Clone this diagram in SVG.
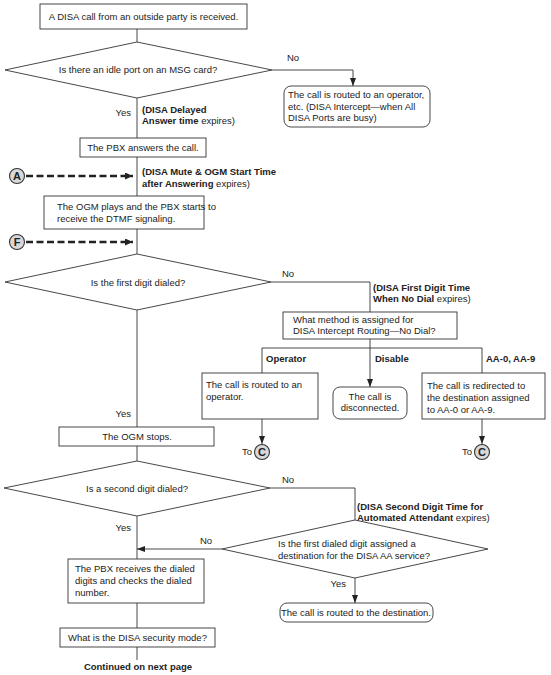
<svg xmlns="http://www.w3.org/2000/svg" width="551" height="675" viewBox="0 0 551 675">
<defs>
<style>
.b{fill:#fff;stroke:#333;stroke-width:0.9}
.l{fill:none;stroke:#333;stroke-width:0.9}
.d{fill:none;stroke:#222;stroke-width:2.4;stroke-dasharray:7 3.5}
.c{fill:#d8d8d8;stroke:#333;stroke-width:1.1}
text{font-family:"Liberation Sans",Arial,sans-serif;font-size:9.5px;fill:#222}
.m{text-anchor:middle}
.e{text-anchor:end}
.k{font-weight:bold}
.cl{font-weight:bold;font-size:11px;text-anchor:middle}
</style>
<marker id="ah" viewBox="0 0 10 10" refX="10" refY="5" markerWidth="8" markerHeight="6" orient="auto" markerUnits="userSpaceOnUse" preserveAspectRatio="none"><path d="M0,0L10,5L0,10z" fill="#222"/></marker>
<marker id="dh" viewBox="0 0 10 10" refX="10" refY="5" markerWidth="8" markerHeight="7" orient="auto" markerUnits="userSpaceOnUse" preserveAspectRatio="none"><path d="M0,0L10,5L0,10z" fill="#222"/></marker>
</defs>
<rect width="551" height="675" fill="#fff"/>

<g id="connectors">
<path class="l" d="M137,29V42"/>
<path class="l" d="M137,98V138"/>
<path class="l" d="M137,157V196"/>
<path class="l" d="M137,229V254"/>
<path class="l" d="M137,310V427"/>
<path class="l" d="M137,446V461"/>
<path class="l" d="M137,516V559"/>
<path class="l" d="M137,603V628"/>
<path class="l" d="M137,647V660"/>
<path class="l" d="M272,70H353V86" marker-end="url(#ah)"/>
<path class="l" d="M271,282H370V312"/>
<path class="l" d="M370,339V348"/>
<path class="l" d="M262,373V348H482V373"/>
<path class="l" d="M370,348V387" marker-end="url(#ah)"/>
<path class="l" d="M262,419V444" marker-end="url(#ah)"/>
<path class="l" d="M482,419V444" marker-end="url(#ah)"/>
<path class="l" d="M270,488H355V520"/>
<path class="l" d="M222,549H137" marker-end="url(#ah)"/>
<path class="l" d="M355,578V603" marker-end="url(#ah)"/>
<path class="d" d="M26,176H133" marker-end="url(#dh)"/>
<path class="d" d="M26,242H133" marker-end="url(#dh)"/>
</g>

<g id="labels">
<text x="287" y="61">No</text>
<text class="e" x="131" y="116">Yes</text>
<text x="142" y="113" class="k">(DISA Delayed</text>
<text x="142" y="124"><tspan class="k">Answer time</tspan> expires)</text>
<text x="142" y="175" class="k">(DISA Mute &amp; OGM Start Time</text>
<text x="142" y="187"><tspan class="k">after Answering</tspan> expires)</text>
<text x="282" y="277">No</text>
<text x="373" y="291" class="k">(DISA First Digit Time</text>
<text x="373" y="302"><tspan class="k">When No Dial</tspan> expires)</text>
<text x="266" y="362" class="k">Operator</text>
<text x="375" y="362" class="k">Disable</text>
<text x="486" y="362" class="k">AA-0, AA-9</text>
<text class="e" x="131" y="417">Yes</text>
<text class="e" x="252" y="455">To</text>
<text class="e" x="472" y="455">To</text>
<text x="282" y="483">No</text>
<text x="357" y="510" class="k">(DISA Second Digit Time for</text>
<text x="357" y="521"><tspan class="k">Automated Attendant</tspan> expires)</text>
<text class="e" x="131" y="531">Yes</text>
<text x="200" y="544">No</text>
<text class="e" x="346" y="587">Yes</text>
<text class="m k" x="138" y="670">Continued on next page</text>
</g>

<g id="n1"><rect class="b" x="40" y="4" width="207" height="25"/><text class="m" x="143.5" y="20">A DISA call from an outside party is received.</text></g>
<g id="n2"><path class="b" d="M5,70L137,42L272,70L137,98z"/><text class="m" x="138" y="73">Is there an idle port on an MSG card?</text></g>
<g id="n3"><rect class="b" x="284" y="86" width="146" height="41" rx="7"/><text x="288" y="98">The call is routed to an operator,</text><text x="288" y="109.5">etc. (DISA Intercept—when All</text><text x="288" y="121">DISA Ports are busy)</text></g>
<g id="n4"><rect class="b" x="80" y="138" width="126" height="19"/><text class="m" x="143" y="151">The PBX answers the call.</text></g>
<g id="cA"><circle class="c" cx="17" cy="176" r="7.5"/><text class="cl" x="17" y="180">A</text></g>
<g id="n5"><rect class="b" x="44" y="196" width="160" height="33"/><text x="57" y="210">The OGM plays and the PBX starts to</text><text x="57" y="221.5">receive the DTMF signaling.</text></g>
<g id="cF"><circle class="c" cx="17" cy="242" r="7.5"/><text class="cl" x="17" y="246">F</text></g>
<g id="n6"><path class="b" d="M5,282L137,254L271,282L137,310z"/><text class="m" x="138" y="286">Is the first digit dialed?</text></g>
<g id="n7"><rect class="b" x="283" y="312" width="174" height="27"/><text x="293" y="323">What method is assigned for</text><text x="293" y="334">DISA Intercept Routing—No Dial?</text></g>
<g id="n8"><rect class="b" x="202" y="373" width="116" height="46"/><text x="206" y="388">The call is routed to an</text><text x="206" y="400">operator.</text></g>
<g id="n9"><rect class="b" x="333" y="387" width="74" height="32" rx="7"/><text class="m" x="370" y="400">The call is</text><text class="m" x="370" y="411">disconnected.</text></g>
<g id="n10"><rect class="b" x="422" y="373" width="123" height="46"/><text x="427" y="389">The call is redirected to</text><text x="427" y="401">the destination assigned</text><text x="427" y="413">to AA-0 or AA-9.</text></g>
<g id="n11"><rect class="b" x="59" y="427" width="155" height="19"/><text class="m" x="137" y="440">The OGM stops.</text></g>
<g id="cC1"><circle class="c" cx="262" cy="452" r="7.5"/><text class="cl" x="262" y="456">C</text></g>
<g id="cC2"><circle class="c" cx="482" cy="452" r="7.5"/><text class="cl" x="482" y="456">C</text></g>
<g id="n12"><path class="b" d="M4,488L137,461L270,488L137,516z"/><text class="m" x="137" y="492">Is a second digit dialed?</text></g>
<g id="n13"><path class="b" d="M222,549L355,520L488,549L355,578z"/><text x="278" y="547">Is the first dialed digit assigned a</text><text x="278" y="558.5">destination for the DISA AA service?</text></g>
<g id="n14"><rect class="b" x="68" y="559" width="136" height="44"/><text x="75" y="572">The PBX receives the dialed</text><text x="75" y="584">digits and checks the dialed</text><text x="75" y="596">number.</text></g>
<g id="n15"><rect class="b" x="280" y="603" width="153" height="19" rx="7"/><text class="m" x="356" y="616">The call is routed to the destination.</text></g>
<g id="n16"><rect class="b" x="60" y="628" width="155" height="19"/><text class="m" x="137.5" y="641">What is the DISA security mode?</text></g>
</svg>
